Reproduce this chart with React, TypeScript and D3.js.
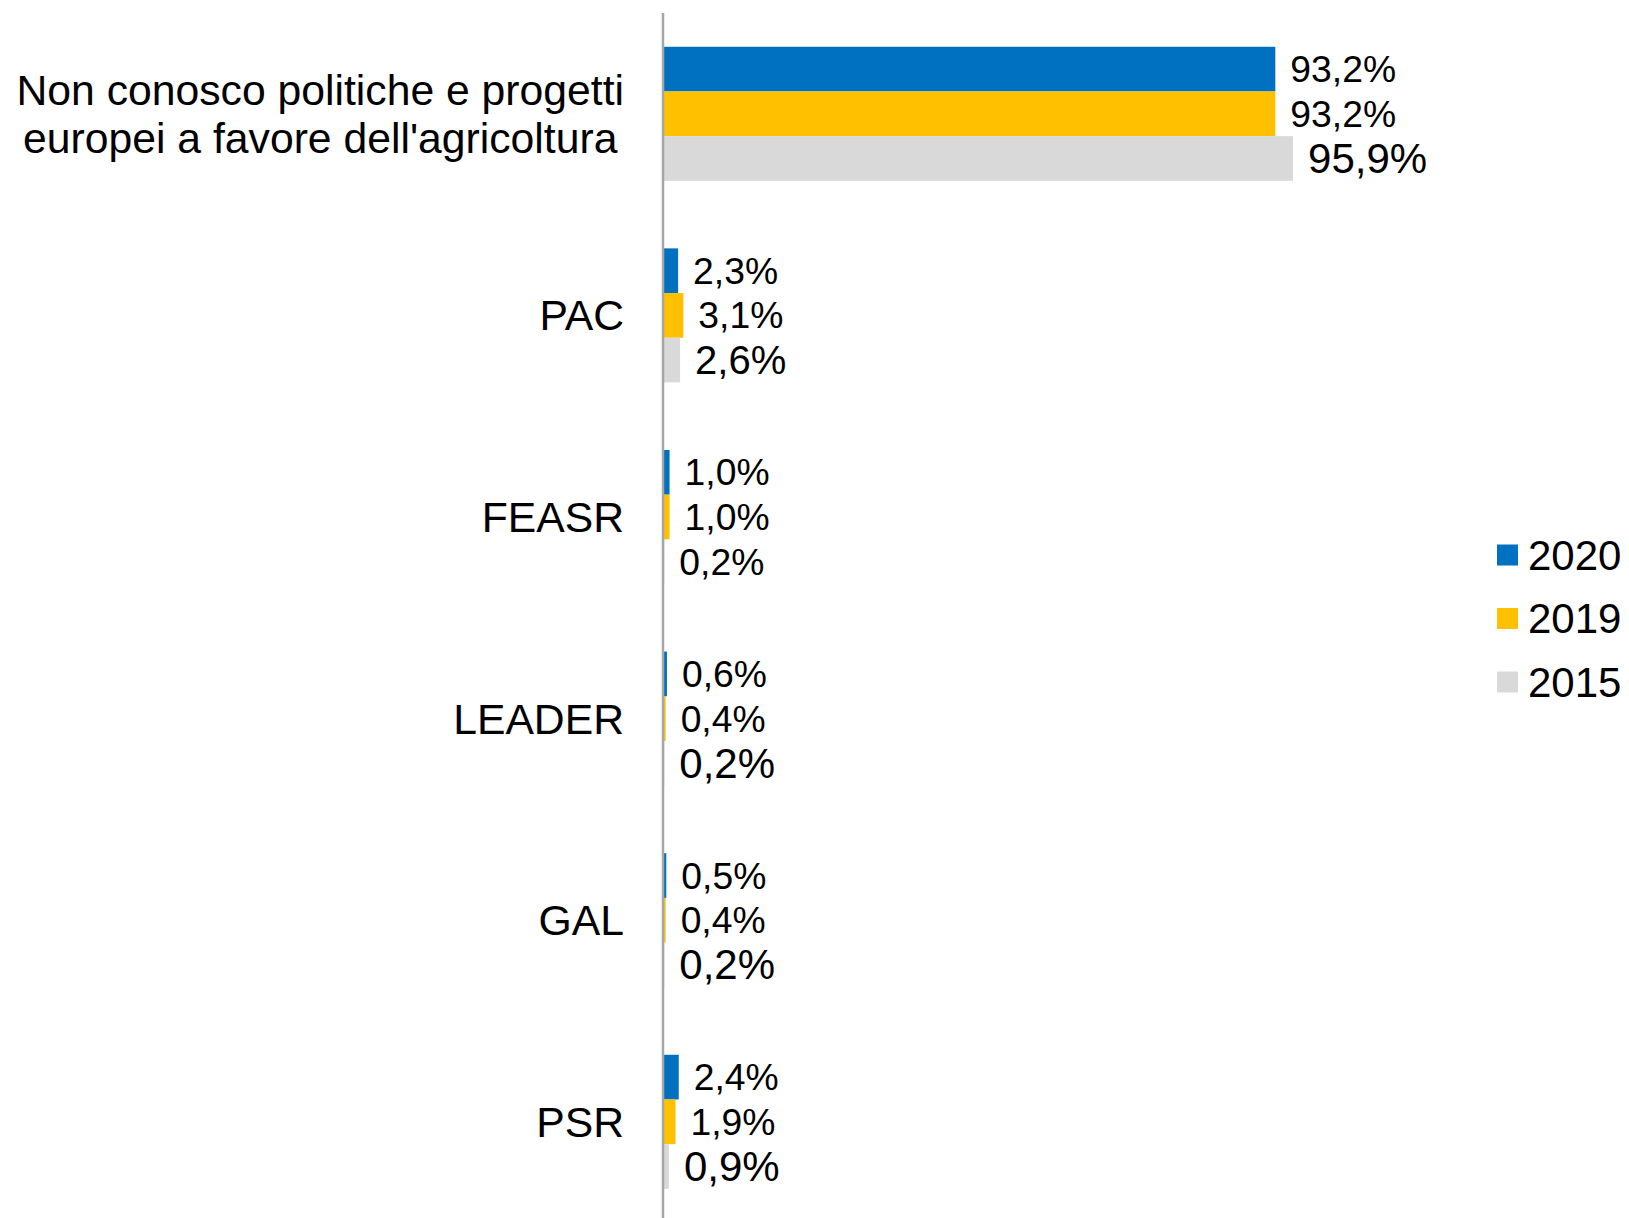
import React, { useEffect, useRef } from 'react';
import * as d3 from 'd3';

const categories: string[][] = [
  ["Non conosco politiche e progetti", "europei a favore dell'agricoltura"],
  ["PAC"],
  ["FEASR"],
  ["LEADER"],
  ["GAL"],
  ["PSR"],
];
const years = ["2020", "2019", "2015"];
const values2020 = [93.2, 2.3, 1.0, 0.6, 0.5, 2.4];
const values2019 = [93.2, 3.1, 1.0, 0.4, 0.4, 1.9];
const values2015 = [95.9, 2.6, 0.2, 0.2, 0.2, 0.9];
const seriesColors = ["#0070C0", "#FFC000", "#D9D9D9"];
const label2015Size = [42, 40, 37.3, 42, 42, 42];

const W = 1629;
const H = 1218;
const FONT = "'Liberation Sans', Arial, sans-serif";

export default function App() {
  const ref = useRef<SVGSVGElement | null>(null);

  useEffect(() => {
    const svg = d3.select(ref.current);
    svg.selectAll('*').remove();

    const series = [values2020, values2019, values2015];
    const idx = d3.range(categories.length);

    const x = d3.scaleLinear().domain([0, 100]).range([663, 1320]);
    const y = d3.scaleBand<number>().domain(idx).range([13, 1222.6]).paddingInner(0.335).paddingOuter(0.1675);
    const yi = d3.scaleBand<string>().domain(years).range([0, y.bandwidth()]).padding(0);

    const fmt = (v: number) => d3.format('.1f')(v).replace('.', ',') + '%';

    // bars
    years.forEach((yr, s) => {
      const g = svg.append('g');
      g.selectAll('rect')
        .data(idx)
        .join('rect')
        .attr('x', x(0))
        .attr('y', (i) => (y(i) as number) + (yi(yr) as number))
        .attr('width', (i) => x(series[s][i]) - x(0))
        .attr('height', yi.bandwidth())
        .attr('fill', seriesColors[s]);
      g.selectAll('text')
        .data(idx)
        .join('text')
        .attr('x', (i) => x(series[s][i]) + 15)
        .attr('y', (i) => (y(i) as number) + (yi(yr) as number) + yi.bandwidth() / 2)
        .attr('dominant-baseline', 'central')
        .attr('font-family', FONT)
        .attr('font-size', (i) => (s === 2 ? label2015Size[i] : 37.3))
        .attr('fill', '#000')
        .text((i) => fmt(series[s][i]));
    });

    // axis line
    svg.append('line')
      .attr('x1', x(0)).attr('x2', x(0))
      .attr('y1', 13).attr('y2', H)
      .attr('stroke', '#A6A6A6').attr('stroke-width', 2.5);

    // category labels
    const labelRight = 624;
    const lineH = 48;
    idx.forEach((i) => {
      const lines = categories[i];
      const cy = (y(i) as number) + y.bandwidth() / 2;
      const g = svg.append('g');
      const texts = lines.map((ln, k) =>
        g.append('text')
          .attr('y', cy + (k - (lines.length - 1) / 2) * lineH)
          .attr('dominant-baseline', 'central')
          .attr('font-family', FONT)
          .attr('font-size', 42.7)
          .attr('fill', '#000')
          .text(ln)
      );
      const widths = texts.map((t) => (t.node() as SVGTextElement).getComputedTextLength());
      const maxW = Math.max(...widths);
      texts.forEach((t) => t.attr('text-anchor', 'middle').attr('x', labelRight - maxW / 2));
    });

    // legend
    const legendY = d3.scalePoint<string>().domain(years).range([555, 682]);
    years.forEach((yr, s) => {
      const cy = legendY(yr) as number;
      svg.append('rect')
        .attr('x', 1497).attr('y', cy - 10.5)
        .attr('width', 21).attr('height', 21)
        .attr('fill', seriesColors[s]);
      svg.append('text')
        .attr('x', 1528).attr('y', cy)
        .attr('dominant-baseline', 'central')
        .attr('font-family', FONT)
        .attr('font-size', 42)
        .attr('fill', '#000')
        .text(yr);
    });
  }, []);

  return (
    <svg
      ref={ref}
      width={W}
      height={H}
      style={{ position: 'absolute', left: 0, top: 0, background: '#fff' }}
    />
  );
}
